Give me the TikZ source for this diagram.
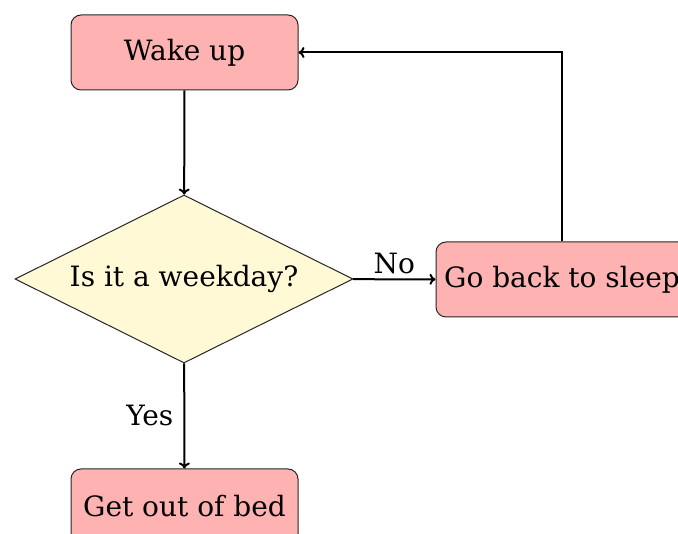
\documentclass[tikz,border=0pt]{standalone}
\usepackage{fontspec}
\setmainfont{DejaVu Serif}
\usetikzlibrary{shapes.geometric,arrows.meta}
\definecolor{boxred}{RGB}{255,178,178}
\definecolor{decyellow}{RGB}{255,249,214}
\begin{document}
\begin{tikzpicture}[x=1pt,y=-1pt,
  font=\fontsize{28}{33}\selectfont,
  procbox/.style={draw=black!85, line width=1pt, fill=boxred, rounded corners=10pt,
    minimum width=227pt, minimum height=75pt, inner sep=0pt},
  decision/.style={diamond, aspect=2.012, draw=black!85, line width=1pt, fill=decyellow,
    minimum width=338pt, minimum height=168pt, inner sep=0pt},
  flow/.style={draw, line width=2pt, -{To[length=6pt,width=11pt]}}]
\useasboundingbox (0,0) rectangle (678,534);
\node[procbox] (wake) at (184.5,52.5) {Wake up};
\node[decision] (weekday) at (184,279) {Is it a weekday?};
\node[procbox, minimum width=252pt] (sleep) at (562,279.5) {Go back to sleep};
\node[procbox] (getup) at (184.5,506.5) {Get out of bed};
\draw[flow] (wake) -- (weekday);
\draw[flow] (weekday) -- node[above, inner sep=4pt] {No} (sleep);
\draw[flow] (weekday) -- node[left, inner sep=10pt] {Yes} (getup);
\draw[flow] (sleep.north) |- (wake.east);
\end{tikzpicture}
\end{document}
